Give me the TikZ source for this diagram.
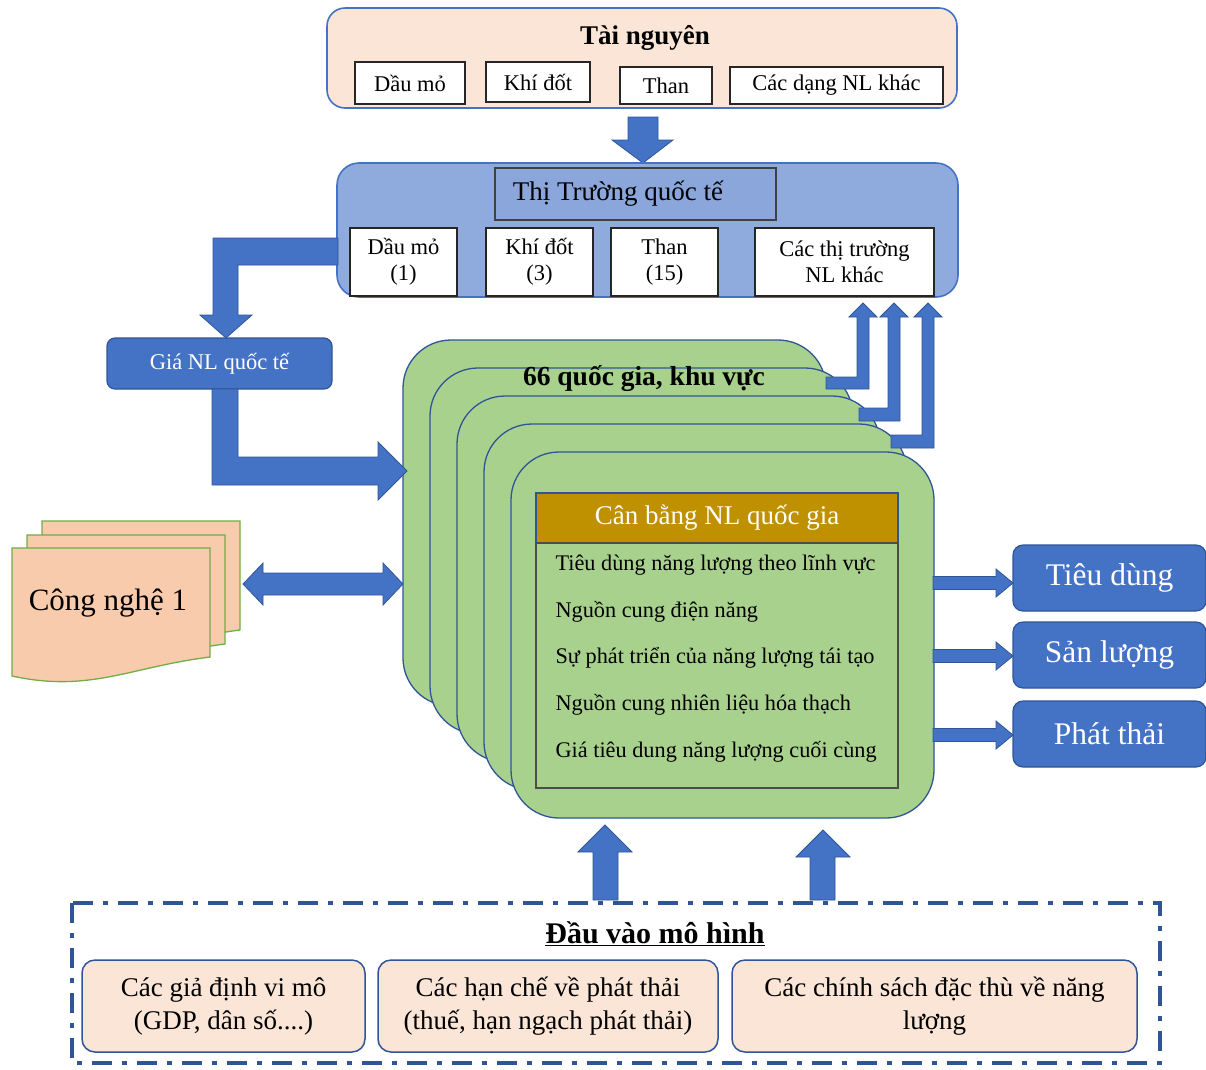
\documentclass[tikz,border=0pt]{standalone}
\usepackage{fontspec}
\setmainfont{Liberation Serif}
\usetikzlibrary{calc}
\definecolor{peach}{HTML}{FBE5D6}
\definecolor{peachdoc}{HTML}{F8CBAD}
\definecolor{lblue}{HTML}{8FAADC}
\definecolor{hblue}{HTML}{8AA6DA}
\definecolor{mblue}{HTML}{4472C4}
\definecolor{dblue}{HTML}{2F5597}
\definecolor{lgreen}{HTML}{A9D18E}
\definecolor{gold}{HTML}{BF9000}
\definecolor{docgreen}{HTML}{70AD47}
\newcommand{\fs}[1]{\fontsize{#1}{#1}\selectfont}
\begin{document}
\begin{tikzpicture}[x=1pt,y=-1pt,
  box/.style={anchor=north west, inner sep=0pt, outer sep=0pt},
  whitebox/.style={box, draw=black!85, fill=white, line width=1.2pt, align=center,
     font=\fontsize{22.5}{26}\selectfont},
  barrow/.style={fill=mblue, draw=dblue, line width=0.8pt},
  layer/.style={box, fill=lgreen, draw=dblue, line width=1.3pt, rounded corners=48pt,
     minimum width=423pt, minimum height=366pt},
  outbox/.style={box, fill=mblue, draw=dblue, line width=1.2pt, rounded corners=10pt,
     minimum width=193pt, minimum height=66pt, text=white, font=\fs{31.5}},
  inbox/.style={box, fill=peach, draw=dblue, line width=1.5pt, rounded corners=13pt,
     minimum height=92pt, align=center, font=\fontsize{27}{33}\selectfont},
  docshape/.style={fill=peachdoc, draw=docgreen, line width=1.3pt},
  listline/.style={anchor=base west, font=\fs{22.3}}
]
\useasboundingbox (0,0) rectangle (1206,1069);

% ---------- Tai nguyen ----------
\node[box, draw=mblue, fill=peach, rounded corners=18pt, line width=1.6pt,
      minimum width=630pt, minimum height=100pt] (tn) at (327,8) {};
\node[font=\bfseries\fs{27}] (tntitle) at (645,38) {Tài nguyên};
\node[whitebox, minimum width=110pt, minimum height=42pt] (tn1) at (355,62) {Dầu mỏ};
\node[whitebox, minimum width=104pt, minimum height=40pt] (tn2) at (486,62) {Khí đốt};
\node[whitebox, minimum width=92pt, minimum height=37pt] (tn3) at (620,67) {Than};
\node[whitebox, minimum width=213pt, minimum height=37pt] (tn4) at (730,67) {Các dạng NL khác};

% arrow down
\draw[barrow] (628,117) -- (658,117) -- (658,140) -- (673,140) -- (643,163) -- (612,140) -- (628,140) -- cycle;

% ---------- Thi truong ----------
\node[box, draw=mblue, fill=lblue, rounded corners=22pt, line width=1.6pt,
      minimum width=621pt, minimum height=134pt] (tt) at (337,163) {};
\node[box, draw=black!75, fill=hblue, line width=1.3pt, minimum width=281pt,
      minimum height=52pt] (tthead) at (495,168) {};
\node[font=\fs{27}] (ttheadtext) at (618,194) {Thị Trường quốc tế};
\node[whitebox, minimum width=107pt, minimum height=68pt] (tt1) at (350,228) {Dầu mỏ\\(1)};
\node[whitebox, minimum width=107pt, minimum height=68pt] (tt2) at (486,228) {Khí đốt\\(3)};
\node[whitebox, minimum width=107pt, minimum height=68pt] (tt3) at (611,228) {Than\\(15)};
\node[whitebox, minimum width=179pt, minimum height=68pt] (tt4) at (755,228) {Các thị trường\\NL khác};

% ---------- Gia NL ----------
\node[box, fill=mblue, draw=dblue, line width=1.2pt, rounded corners=8pt,
      minimum width=225pt, minimum height=51pt, text=white, font=\fs{22.5}] (gia) at (107,338) {Giá NL quốc tế};

% bent arrow Thi truong -> Gia
\draw[barrow] (338,238) -- (213,238) -- (213,315) -- (200,315) -- (226,338) -- (252,315)
   -- (238,315) -- (238,265) -- (338,265) -- cycle;

% ---------- green stack ----------
\foreach \i in {0,...,4}{
  \node[layer] (L\i) at ({403+27*\i},{340+28*\i}) {};
}
\node[font=\bfseries\fs{27.5}] (qg) at (644,379) {66 quốc gia, khu vực};

% bent arrow Gia -> stack
\draw[barrow] (212,389) -- (238,389) -- (238,457) -- (378,457) -- (378,442) -- (407,471)
   -- (378,500) -- (378,485) -- (212,485) -- cycle;

% three arrows up to "Cac thi truong NL khac"
\draw[barrow] (826,377) -- (857,377) -- (857,317) -- (849,317) -- (863,303) -- (877,317)
   -- (869,317) -- (869,389) -- (826,389) -- cycle;
\draw[barrow] (859,408) -- (888,408) -- (888,317) -- (880,317) -- (894,303) -- (908,317)
   -- (900,317) -- (900,421) -- (859,421) -- cycle;
\draw[barrow] (891,435) -- (922,435) -- (922,317) -- (914,317) -- (928,303) -- (942,317)
   -- (934,317) -- (934,448) -- (891,448) -- cycle;

% front layer content
\node[box, fill=gold, draw=dblue, line width=1.6pt, minimum width=362pt, minimum height=50pt,
      text=white, font=\fs{27}] (cb) at (536,493) {Cân bằng NL quốc gia};
\node[box, draw=black!70, line width=1.3pt, minimum width=362pt, minimum height=245pt] (cbbody) at (536,543) {};
\node[listline] (l1) at (552,570) {Tiêu dùng năng lượng theo lĩnh vực};
\node[listline] (l2) at (552,617) {Nguồn cung điện năng};
\node[listline] (l3) at (552,663) {Sự phát triển của năng lượng tái tạo};
\node[listline] (l4) at (552,710) {Nguồn cung nhiên liệu hóa thạch};
\node[listline] (l5) at (552,757) {Giá tiêu dung năng lượng cuối cùng};

% ---------- outputs ----------
\node[outbox] (o1) at (1013,545) {Tiêu dùng};
\node[outbox] (o2) at (1013,622) {Sản lượng};
\node[outbox] (o3) at (1013,701) {Phát thải};
\foreach \c in {583,656,735}{
  \draw[barrow] (933,\c-6.5) -- (996,\c-6.5) -- (996,\c-14) -- (1013,\c) -- (996,\c+14)
     -- (996,\c+6.5) -- (933,\c+6.5) -- cycle;
}

% ---------- Cong nghe ----------
\foreach \x/\y in {42/521, 27/535, 12/548}{
  \draw[docshape] (\x,\y) -- ({\x+198},\y) -- ({\x+198},{\y+109})
     .. controls ({\x+118},{\y+119}) and ({\x+78},{\y+145}) .. (\x,{\y+128}) -- cycle;
}
\node[font=\fs{31}] (cn) at (108,603) {Công nghệ 1};
\draw[barrow] (243,584) -- (263,563) -- (263,573) -- (383,573) -- (383,563) -- (403,584)
   -- (383,605) -- (383,595) -- (263,595) -- (263,605) -- cycle;

% ---------- Dau vao mo hinh ----------
\draw[dblue, line width=4pt, dash pattern=on 20pt off 10pt on 5pt off 10pt]
   (72,903) rectangle (1160,1063);
\draw[barrow] (593,900) -- (593,852) -- (578,852) -- (605,825) -- (632,852) -- (618,852) -- (618,900) -- cycle;
\draw[barrow] (810,900) -- (810,857) -- (796,857) -- (823,830) -- (850,857) -- (835,857) -- (835,900) -- cycle;
\node[font=\bfseries\fs{30}] (dv) at (655,934) {\underline{Đầu vào mô hình}};
\node[inbox, minimum width=283pt] (b1) at (82,960) {Các giả định vi mô\\(GDP, dân số....)};
\node[inbox, minimum width=340pt] (b2) at (378,960) {Các hạn chế về phát thải\\(thuế, hạn ngạch phát thải)};
\node[inbox, minimum width=405pt] (b3) at (732,960) {Các chính sách đặc thù về năng\\lượng};
\end{tikzpicture}
\end{document}
